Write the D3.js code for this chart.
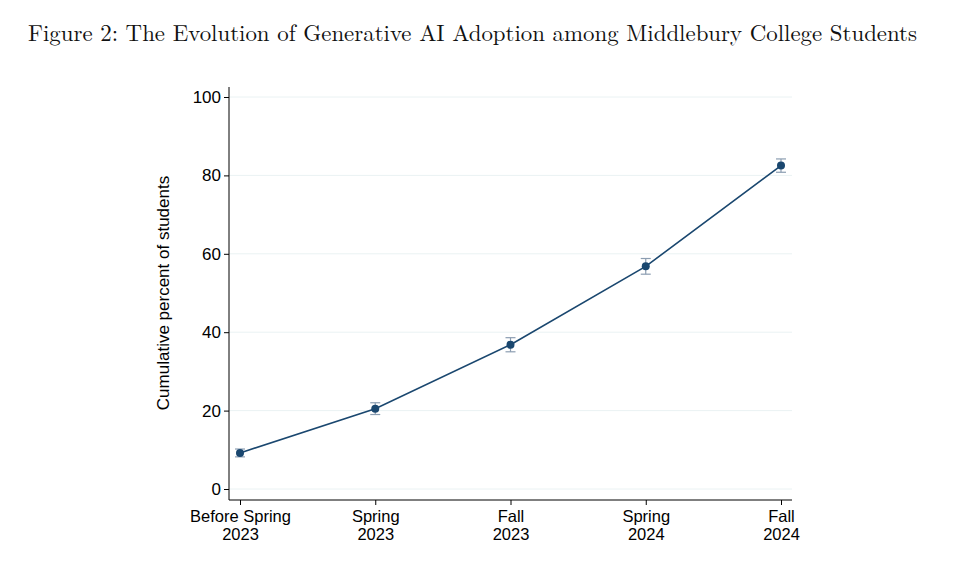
<!DOCTYPE html>
<html>
<head>
<meta charset="utf-8">
<script src="https://cdn.jsdelivr.net/npm/d3@7"></script>
<style>
  body { margin: 0; background: #fff; }
  svg { display: block; }
</style>
</head>
<body>
<svg class="chart-svg"></svg>
<script>
// data
const periods = [["Before Spring", "2023"], ["Spring", "2023"], ["Fall", "2023"], ["Spring", "2024"], ["Fall", "2024"]];
const adoption = [9.2, 20.5, 36.8, 56.8, 82.5];
const errLow = [8.2, 19.0, 35.0, 54.8, 80.8];
const errHigh = [10.2, 22.0, 38.6, 58.8, 84.2];
const yTicks = [0, 20, 40, 60, 80, 100];

const width = 959, height = 581;
const navy = "#1a476f";
const sans = "Liberation Sans, Arial, sans-serif";

const svg = d3.select(".chart-svg")
    .attr("width", width)
    .attr("height", height);

svg.append("text")
    .attr("x", 28)
    .attr("y", 41)
    .attr("font-family", "Latin Modern Roman, CMU Serif, Liberation Serif, serif")
    .attr("font-size", 23)
    .attr("textLength", 889)
    .attr("lengthAdjust", "spacingAndGlyphs")
    .attr("fill", "#111")
    .text("Figure 2: The Evolution of Generative AI Adoption among Middlebury College Students");

const x = d3.scalePoint()
    .domain(d3.range(periods.length))
    .range([240, 781]);

const y = d3.scaleLinear()
    .domain([0, 100])
    .range([489, 97]);

// gridlines
svg.append("g")
    .selectAll("line")
    .data(yTicks)
    .join("line")
    .attr("x1", 229)
    .attr("x2", 792)
    .attr("y1", d => y(d))
    .attr("y2", d => y(d))
    .attr("stroke", "#eaf2f3")
    .attr("stroke-width", 1);

// y axis
const yAxis = svg.append("g")
    .attr("transform", "translate(229,0)")
    .call(d3.axisLeft(y).tickValues(yTicks).tickSize(5).tickPadding(3).tickSizeOuter(0));
yAxis.select(".domain").remove();
yAxis.append("line")
    .attr("y1", 87).attr("y2", 500)
    .attr("stroke", "#000");
yAxis.selectAll("text")
    .attr("font-family", sans)
    .attr("font-size", 17)
    .attr("fill", "#000");

// x axis, two-line labels
const xAxis = svg.append("g")
    .attr("transform", "translate(0,500)")
    .call(d3.axisBottom(x).tickSize(5).tickFormat(""));
xAxis.select(".domain").remove();
xAxis.append("line")
    .attr("x1", 229).attr("x2", 792)
    .attr("stroke", "#000");
xAxis.selectAll(".tick text").remove();
xAxis.selectAll(".tick")
    .each(function(d) {
        const t = d3.select(this);
        periods[d].forEach((s, i) => {
            t.append("text")
                .attr("font-family", sans)
                .attr("font-size", 16.5)
                .attr("fill", "#000")
                .attr("text-anchor", "middle")
                .attr("y", 22 + i * 18)
                .text(s);
        });
    });

// y title
svg.append("text")
    .attr("transform", "translate(169,293) rotate(-90)")
    .attr("text-anchor", "middle")
    .attr("font-family", sans)
    .attr("font-size", 17)
    .attr("fill", "#000")
    .text("Cumulative percent of students");

// error bars
const errG = svg.append("g")
    .attr("stroke", "#8b9db1")
    .attr("stroke-width", 1.2)
    .selectAll("g")
    .data(adoption.map((v, i) => i))
    .join("g");
errG.append("line")
    .attr("x1", i => x(i)).attr("x2", i => x(i))
    .attr("y1", i => y(errLow[i])).attr("y2", i => y(errHigh[i]));
errG.append("line")
    .attr("x1", i => x(i) - 5).attr("x2", i => x(i) + 5)
    .attr("y1", i => y(errLow[i])).attr("y2", i => y(errLow[i]));
errG.append("line")
    .attr("x1", i => x(i) - 5).attr("x2", i => x(i) + 5)
    .attr("y1", i => y(errHigh[i])).attr("y2", i => y(errHigh[i]));

// line
const line = d3.line()
    .x((d, i) => x(i))
    .y(d => y(d));

svg.append("path")
    .datum(adoption)
    .attr("fill", "none")
    .attr("stroke", navy)
    .attr("stroke-width", 1.6)
    .attr("d", line);

svg.append("g")
    .selectAll("circle")
    .data(adoption)
    .join("circle")
    .attr("cx", (d, i) => x(i))
    .attr("cy", d => y(d))
    .attr("r", 4)
    .attr("fill", navy);
</script>
</body>
</html>
